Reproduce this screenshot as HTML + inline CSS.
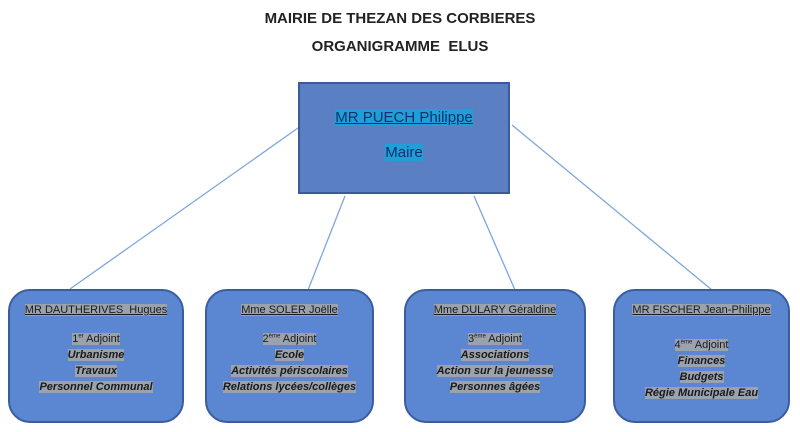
<!DOCTYPE html>
<html><head><meta charset="utf-8"><style>
body{margin:0;width:800px;height:432px;background:#fff;position:relative;font-family:"Liberation Sans",sans-serif;overflow:hidden}
.t{position:absolute;left:0;width:800px;text-align:center;font-weight:bold;font-size:15px;color:#222}
.top{position:absolute;left:298px;top:82px;width:212px;height:112px;background:#5a7fc3;border:2px solid #3c5a96;box-sizing:border-box}
.top span{background:#1f9fd8;color:#12306a;font-size:15px}
.b{position:absolute;top:289px;height:134px;background:#5b87d2;border:2px solid #3b5d9e;border-radius:22px;box-sizing:border-box;text-align:center;font-size:11px;color:#1a1a1a}
.b span{background:#9aa3ad}
.b .n{margin-top:11px;text-decoration:underline;font-size:11px}
.b .a{margin-top:10px}
.b div{line-height:16px}
.b i{font-weight:bold}
</style></head><body>
<div class="t" style="top:10px">MAIRIE DE THEZAN DES CORBIERES</div>
<div class="t" style="top:38px">ORGANIGRAMME&nbsp; ELUS</div>
<svg width="800" height="432" style="position:absolute;left:0;top:0">
<g stroke="#7ea6dc" stroke-width="1.3">
<line x1="298" y1="128" x2="70" y2="289"/>
<line x1="345" y1="196" x2="308" y2="290"/>
<line x1="474" y1="196" x2="515" y2="290"/>
<line x1="512" y1="125" x2="712" y2="290"/>
</g></svg>
<div class="top">
<div style="text-align:center;margin-top:25px"><span style="text-decoration:underline">MR PUECH Philippe</span></div>
<div style="text-align:center;margin-top:17px"><span>Maire</span></div>
</div>
<div class="b" style="left:8px;width:176px">
<div class="n"><span>MR DAUTHERIVES&nbsp; Hugues</span></div>
<div class="a"><span>1<sup style="font-size:6px">er</sup> Adjoint</span></div>
<div><i><span>Urbanisme</span></i></div>
<div><i><span>Travaux</span></i></div>
<div><i><span>Personnel Communal</span></i></div>
</div>
<div class="b" style="left:205px;width:169px">
<div class="n"><span>Mme SOLER Joëlle</span></div>
<div class="a"><span>2<sup style="font-size:6px">ème</sup> Adjoint</span></div>
<div><i><span>Ecole</span></i></div>
<div><i><span>Activités périscolaires</span></i></div>
<div><i><span>Relations lycées/collèges</span></i></div>
</div>
<div class="b" style="left:404px;width:182px">
<div class="n"><span>Mme DULARY Géraldine</span></div>
<div class="a"><span>3<sup style="font-size:6px">ème</sup> Adjoint</span></div>
<div><i><span>Associations</span></i></div>
<div><i><span>Action sur la jeunesse</span></i></div>
<div><i><span>Personnes âgées</span></i></div>
</div>
<div class="b" style="left:613px;width:177px">
<div class="n"><span>MR FISCHER Jean-Philippe</span></div>
<div class="a" style="margin-top:16px"><span>4<sup style="font-size:6px">ème</sup> Adjoint</span></div>
<div><i><span>Finances</span></i></div>
<div><i><span>Budgets</span></i></div>
<div><i><span>Régie Municipale Eau</span></i></div>
</div>
</body></html>
